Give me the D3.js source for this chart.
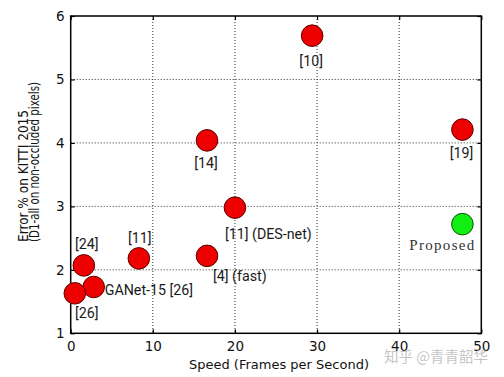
<!DOCTYPE html>
<html><head><meta charset="utf-8">
<script src="https://cdn.jsdelivr.net/npm/d3@7"></script>
<style>body{margin:0;background:#fff}svg{display:block}</style>
</head><body>
<svg id="c" width="504" height="377"></svg>
<script>
// ---- data ----
const methods = ["[10]", "[19]", "[14]", "[11] (DES-net)", "[11]", "[4] (fast)", "[24]", "GANet-15 [26]", "[26]", "Proposed"];
const speedFps = [29.4, 47.7, 16.6, 20.0, 8.3, 16.6, 1.6, 2.8, 0.5, 47.7];
const errorPct = [5.69, 4.21, 4.04, 2.98, 2.18, 2.22, 2.07, 1.73, 1.63, 2.72];
const isProposed = [false, false, false, false, false, false, false, false, false, true];
const xTicks = [0, 10, 20, 30, 40, 50];
const yTicks = [1, 2, 3, 4, 5, 6];
const xTitle = "Speed (Frames per Second)";
const yTitle = ["Error % on KITTI 2015", "(D1-all on non-occluded pixels)"];
const watermark = "知乎 @青青韶华";

// ---- label layout (styling) ----
const labelLayout = [
  {dx: -1, dy: 25, anchor: "middle"},
  {dx: -1, dy: 23, anchor: "middle"},
  {dx: -1, dy: 22, anchor: "middle"},
  {dx: -10, dy: 26, anchor: "start"},
  {dx: 1, dy: -21, anchor: "middle"},
  {dx: 6, dy: 20, anchor: "start"},
  {dx: 3, dy: -22, anchor: "middle"},
  {dx: 11, dy: 3, anchor: "start"},
  {dx: 12, dy: 19, anchor: "middle"},
  {dx: -20, dy: 21, anchor: "middle"}
];

const svg = d3.select("#c");
const L = 70.7, R = 481.3, T = 16, B = 333.3;
const x = d3.scaleLinear().domain([0, 50]).range([L, R]);
const y = d3.scaleLinear().domain([1, 6]).range([B, T]);

// grid
const g = svg.append("g");
g.selectAll(".vg").data(xTicks.slice(1, -1)).enter().append("line")
  .attr("x1", d => x(d)).attr("x2", d => x(d)).attr("y1", T).attr("y2", B)
  .attr("stroke", "#333").attr("stroke-width", 1).attr("stroke-dasharray", "1,2");
g.selectAll(".hg").data(yTicks.slice(1, -1)).enter().append("line")
  .attr("y1", d => y(d)).attr("y2", d => y(d)).attr("x1", L).attr("x2", R)
  .attr("stroke", "#333").attr("stroke-width", 1).attr("stroke-dasharray", "1,2");

// axes
const tickFont = "DejaVu Sans, sans-serif";
const xAxis = d3.axisBottom(x).tickValues(xTicks).tickSize(-4).tickPadding(8).tickFormat(d3.format("d"));
const yAxis = d3.axisLeft(y).tickValues(yTicks).tickSize(-4).tickPadding(6).tickFormat(d3.format("d"));
const xTop = d3.axisTop(x).tickValues(xTicks).tickSize(-4).tickFormat("");
const yRight = d3.axisRight(y).tickValues(yTicks).tickSize(-4).tickFormat("");
function styleAxis(sel) {
  sel.select(".domain").remove();
  sel.selectAll("line").attr("stroke", "#000").attr("stroke-width", 1.2);
  sel.selectAll("text").attr("font-family", tickFont).attr("font-size", 13.5).attr("fill", "#111");
}
svg.append("g").attr("transform", `translate(0,${B})`).call(xAxis).call(styleAxis);
svg.append("g").attr("transform", `translate(${L},0)`).call(yAxis).call(styleAxis);
svg.append("g").attr("transform", `translate(0,${T})`).call(xTop).call(styleAxis);
svg.append("g").attr("transform", `translate(${R},0)`).call(yRight).call(styleAxis);

// frame
svg.append("rect").attr("x", L).attr("y", T).attr("width", R - L).attr("height", B - T)
  .attr("fill", "none").attr("stroke", "#000").attr("stroke-width", 1.5);

// titles
svg.append("text").attr("x", (L + R) / 2 + 3).attr("y", 369).attr("text-anchor", "middle")
  .attr("font-family", tickFont).attr("font-size", 13).attr("fill", "#111").text(xTitle);
svg.append("text").attr("transform", "translate(27.5,242) rotate(-90)")
  .attr("font-family", tickFont).attr("font-size", 14).attr("fill", "#111")
  .attr("textLength", 132).attr("lengthAdjust", "spacingAndGlyphs").text(yTitle[0]);
svg.append("text").attr("transform", "translate(38.5,242) rotate(-90)")
  .attr("font-family", tickFont).attr("font-size", 14).attr("fill", "#111")
  .attr("textLength", 160).attr("lengthAdjust", "spacingAndGlyphs").text(yTitle[1]);

// points
const pts = methods.map((m, i) => ({m, sx: speedFps[i], e: errorPct[i], p: isProposed[i], lay: labelLayout[i]}));
svg.selectAll(".pt").data(pts).enter().append("circle")
  .attr("cx", d => x(d.sx)).attr("cy", d => y(d.e)).attr("r", 10.8)
  .attr("fill", d => d.p ? "#11ee11" : "#ee0000")
  .attr("stroke", d => d.p ? "#105010" : "#5a0000").attr("stroke-width", 1);

// labels
svg.selectAll(".lb").data(pts).enter().append("text")
  .attr("transform", d => `translate(${x(d.sx) + d.lay.dx},${y(d.e) + d.lay.dy}) scale(${d.p ? 1 : 0.92},1)`)
  .attr("text-anchor", d => d.lay.anchor)
  .attr("dominant-baseline", "central")
  .attr("font-family", d => d.p ? "Liberation Serif, serif" : "Roboto, sans-serif")
  .attr("font-size", d => d.p ? 15 : 15.5)
  .attr("letter-spacing", d => d.p ? 1.3 : 0)
  .attr("fill", d => d.p ? "#333" : "#1a1a1a")
  .text(d => d.m);

// watermark
svg.append("text").attr("x", 436).attr("y", 355).attr("text-anchor", "middle")
  .attr("dominant-baseline", "central")
  .attr("font-family", "Noto Sans CJK SC, sans-serif").attr("font-size", 14.5)
  .attr("fill", "#bdbdbd").attr("fill-opacity", 0.9).text(watermark);
</script>
</body></html>
